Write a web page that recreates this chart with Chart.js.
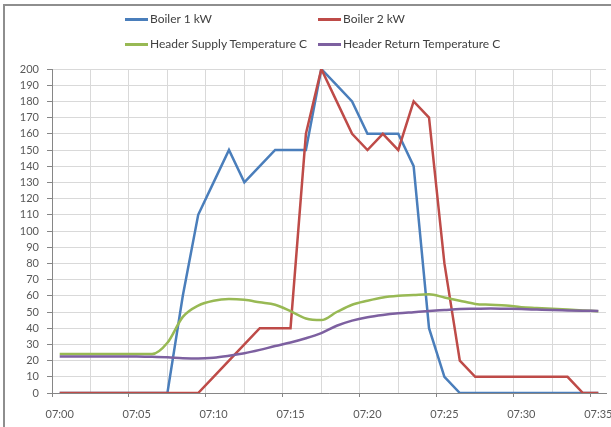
<!DOCTYPE html>
<html><head><meta charset="utf-8">
<script src="https://cdn.jsdelivr.net/npm/chart.js@4/dist/chart.umd.min.js"></script>
<style>
html,body{margin:0;padding:0;background:#fff;overflow:hidden;width:611px;height:427px;}
#frame{position:absolute;left:3px;top:4px;width:700px;height:500px;border-left:2px solid #8e8e8e;border-top:2px solid #8e8e8e;box-sizing:border-box;}
#wrap{position:absolute;left:0;top:0;width:640px;height:427px;}
#legend{position:absolute;left:0;top:0;width:611px;height:60px;font-family:Lato,"Open Sans",sans-serif;font-size:12px;color:#404040;}
.item{position:absolute;display:flex;align-items:center;white-space:nowrap;height:14px;line-height:14px;}
.swatch{display:inline-block;height:3px;width:23px;margin-right:2px;}
</style></head>
<body>
<div id="frame"></div>
<div id="wrap"><canvas id="c" width="640" height="427"></canvas></div>
<div id="legend"></div>
<script>
// ---- data ----
const times = ['07:00','07:01','07:02','07:03','07:04','07:05','07:06','07:07','07:08','07:09',
  '07:10','07:11','07:12','07:13','07:14','07:15','07:16','07:17','07:18','07:19',
  '07:20','07:21','07:22','07:23','07:24','07:25','07:26','07:27','07:28','07:29',
  '07:30','07:31','07:32','07:33','07:34','07:35'];
const boiler1 = [0,0,0,0,0,0,0,0,60,110,130,150,130,140,150,150,150,200,190,180,
  160,160,160,140,40,10,0,0,0,0,0,0,0,0,0,0];
const boiler2 = [0,0,0,0,0,0,0,0,0,0,10,20,30,40,40,40,160,200,180,160,
  150,160,150,180,170,80,20,10,10,10,10,10,10,10,0,0];
const supplyTemp = [24,24,24,24,24,24,24,31,47,54,57,58,57.5,56,54.5,50.5,46,45,50,54.5,
  57,59,60,60.5,61,59,57,55,54.5,54,53,52.5,52,51.5,51,50.5];
const returnTemp = [22.5,22.5,22.5,22.5,22.5,22.5,22.3,22,21.5,21.3,21.8,23,24.5,26.6,29,31.2,33.8,37,41.5,44.7,
  46.8,48.2,49.2,49.9,50.6,51.2,51.8,52,52.2,52,51.8,51.5,51.2,51,50.8,50.6];
const xTickLabels = ['07:00','07:05','07:10','07:15','07:20','07:25','07:30','07:35'];
const seriesNames = ['Boiler 1 kW','Boiler 2 kW','Header Supply Temperature C','Header Return Temperature C'];
const seriesColors = ['#4A7EBB','#BE4B48','#98B954','#7D60A0'];

// ---- legend (HTML) ----
const legendPos = [[125,12],[318,12],[125,37],[318,37]];
const lg = document.getElementById('legend');
seriesNames.forEach((n,i)=>{
  const d = document.createElement('div');
  d.className='item';
  d.style.left = legendPos[i][0]+'px';
  d.style.top = legendPos[i][1]+'px';
  d.innerHTML = '<span class="swatch" style="background:'+seriesColors[i]+'"></span><span>'+n+'</span>';
  lg.appendChild(d);
});

// ---- chart ----
const allSeries = [boiler1, boiler2, supplyTemp, returnTemp];
const tickFont = {family:'Lato, "Open Sans", sans-serif', size:11};
new Chart(document.getElementById('c'), {
  type:'line',
  data:{
    labels: times,
    datasets: allSeries.map((s,i)=>({
      label: seriesNames[i],
      data: s,
      borderColor: seriesColors[i],
      backgroundColor: seriesColors[i],
      borderWidth: 2.5,
      pointRadius: 0,
      fill:false,
      tension: i>=2 ? 0.35 : 0,
      cubicInterpolationMode: i>=2 ? 'monotone' : 'default',
      order: 4-i,
      xAxisID:'x', yAxisID:'y'
    }))
  },
  options:{
    responsive:false, animation:false,
    layout:{padding:{top:69,right:34,left:0,bottom:0}},
    plugins:{legend:{display:false}, tooltip:{enabled:false}},
    scales:{
      xg:{
        type:'linear', position:'bottom', min:-0.5, max:35.5, weight:0,
        afterBuildTicks:(ax)=>{ const t=[]; for(let v=-0.5; v<=35.5; v+=2.5) t.push({value:v}); ax.ticks=t; },
        ticks:{display:false},
        grid:{color:'#d9d9d9', lineWidth:1, drawTicks:true, tickLength:4,
          tickColor:(ctx)=> (ctx.tick && Math.abs(((ctx.tick.value+0.5)%5))<1e-6) ? '#868686' : 'rgba(0,0,0,0)'},
        border:{display:true,color:'#868686',width:1},
        afterFit:(ax)=>{ax.height=4;}
      },
      x:{
        type:'category', position:'bottom', offset:true, weight:1,
        grid:{display:false, drawTicks:false},
        border:{display:false},
        ticks:{autoSkip:false, maxRotation:0, padding:11, color:'#595959', font:tickFont,
          callback:function(v,idx){ const lab=times[idx]; return xTickLabels.includes(lab)?lab:''; }},
        afterFit:(ax)=>{ax.height=30;}
      },
      y:{
        type:'linear', min:0, max:200,
        ticks:{stepSize:10, padding:8, color:'#595959', font:tickFont},
        grid:{color:'#d9d9d9', lineWidth:1, tickLength:5, tickColor:'#868686'},
        border:{display:true,color:'#868686',width:1},
        afterFit:(ax)=>{ax.width=52;}
      }
    }
  }
});
</script>
</body></html>
